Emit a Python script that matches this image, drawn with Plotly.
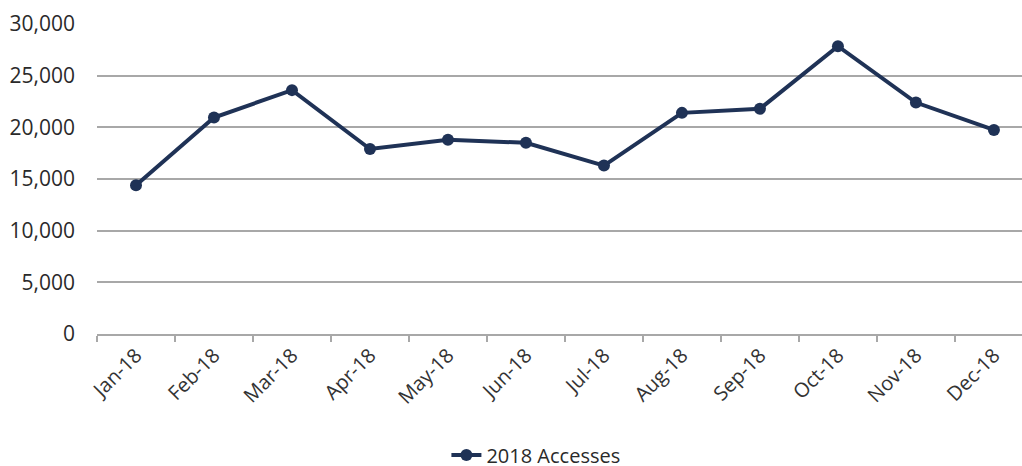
import plotly.graph_objects as go

months = ["Jan-18", "Feb-18", "Mar-18", "Apr-18", "May-18", "Jun-18",
          "Jul-18", "Aug-18", "Sep-18", "Oct-18", "Nov-18", "Dec-18"]
accesses = [14400, 20950, 23600, 17900, 18800, 18500,
            16300, 21400, 21800, 27850, 22400, 19750]
y_ticks = [0, 5000, 10000, 15000, 20000, 25000, 30000]
y_labels = ["0", "5,000", "10,000", "15,000", "20,000", "25,000", "30,000"]

navy = "#1F3256"
grid = "#A8A8A8"
font = "Open Sans"

fig = go.Figure()
fig.add_trace(go.Scatter(
    x=months, y=accesses, mode="lines+markers", name="2018 Accesses",
    line=dict(color=navy, width=4),
    marker=dict(color=navy, size=12),
))

fig.update_layout(
    width=1022, height=466,
    margin=dict(l=97, r=0, t=24, b=132, autoexpand=False),
    paper_bgcolor="white", plot_bgcolor="white",
    font=dict(family=font, size=20, color="#404040"),
    showlegend=True,
    legend=dict(orientation="h", x=0.4745, xanchor="center",
                y=-0.39, yanchor="middle",
                bgcolor="rgba(0,0,0,0)",
                font=dict(family=font, size=20, color="#2a2a2a")),
    xaxis=dict(type="category", range=[-0.5, 11.36], automargin=False,
               tickson="boundaries", ticks="outside", ticklen=6,
               tickcolor=grid, tickwidth=1.5,
               showline=True, linecolor=grid, linewidth=1.5,
               showgrid=False, tickangle=-45,
               tickfont=dict(family=font, size=20, color="#333333")),
    yaxis=dict(range=[0, 30000], tickvals=y_ticks, ticktext=y_labels,
               automargin=False,
               showgrid=True, gridcolor=grid, gridwidth=1.5,
               zeroline=False, showline=False, ticks="",
               ticklabelstandoff=21,
               tickfont=dict(family=font, size=21, color="#2a2a2a")),
)

fig.write_html("out.html", config={"displayModeBar": False},
               post_script="document.body.style.margin='0';")
